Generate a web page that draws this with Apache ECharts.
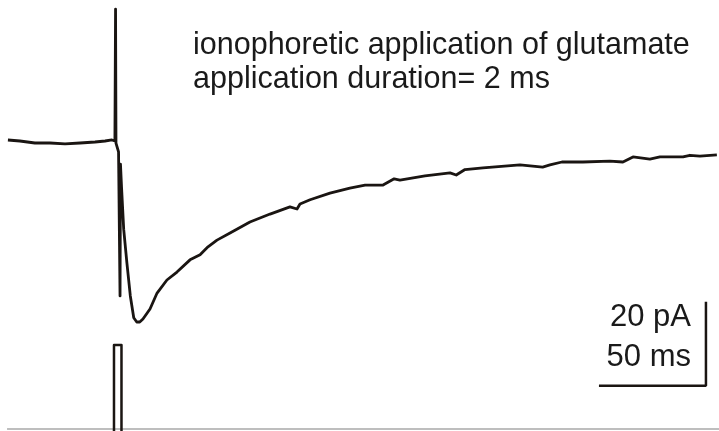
<!DOCTYPE html>
<html>
<head>
<meta charset="utf-8">
<script src="https://cdn.jsdelivr.net/npm/echarts@6/dist/echarts.min.js"></script>
<style>
  html, body { margin: 0; padding: 0; background: #fff; }
  #trace { width: 719px; height: 431px; }
</style>
</head>
<body>
<div id="trace"></div>
<script>
// 电流记录 (ms, pA)，刺激时刻为 0
var timeMs = [-50.5, -44.9, -37.9, -30.8, -23.8, -16.8, -9.8, -5.1, -1.9, -0.5,
  -0.2, 0, 1.2, 1.9, 2.1, 2.6, 3.6, 5.1, 6.7, 8.3, 9.7, 11.1, 12.6, 15.9, 19.2,
  23.8, 28.5, 34.6, 39.3, 43.0, 47.2, 53.3, 62.6, 72.0, 81.3, 84.6, 86.0, 90.7,
  100.0, 109.3, 116.4, 124.8, 130.0, 132.7, 144.4, 156.1, 159.0, 163.1, 171.5,
  188.8, 199.4, 202.8, 208.4, 218.2, 230.8, 236.9, 241.6, 249.5, 254.2, 265.0,
  268.2, 272.9, 280.8];
var currentPA = [0.24, 0, -0.48, -0.48, -0.71, -0.48, -0.24, 0, 0.24, 0,
  31.4, -0.5, -2.6, -36.9, -5.5, -11.0, -21.0, -29.0, -36.9, -42.1, -43.1, -43.1,
  -42.4, -40.0, -36.2, -33.1, -31.2, -28.3, -27.1, -25.2, -23.6, -21.9, -19.3,
  -17.4, -15.7, -16.2, -15.0, -14.0, -12.4, -11.2, -10.5, -10.5, -9.0, -9.3,
  -8.3, -7.6, -8.1, -6.8, -6.4, -5.7, -6.2, -5.7, -5.0, -5.0, -4.8, -5.0, -3.8,
  -4.3, -3.8, -3.8, -3.4, -3.6, -3.3];

// 离子电渗给药脉冲 (ms)
var pulseStartMs = -0.93;
var pulseEndMs = 2.57;
var cmdStartMs = -50.9;
var cmdEndMs = 281.8;

// 标尺
var scaleBarMs = 50;
var scaleBarPA = 20;
var scaleCornerMs = 275.7;
var scaleCornerPA = -58.3;

var titleLines = ['ionophoretic application of glutamate', 'application duration= 2 ms'];
var scaleLabels = [scaleBarPA + ' pA', scaleBarMs + ' ms'];

var traceData = timeMs.map(function (t, i) { return [t, currentPA[i]]; });
var pulseData = [[pulseStartMs, -0.03], [pulseStartMs, 1], [pulseEndMs, 1], [pulseEndMs, -0.03]];
var scaleData = [
  [scaleCornerMs - scaleBarMs, scaleCornerPA],
  [scaleCornerMs, scaleCornerPA],
  [scaleCornerMs, scaleCornerPA + scaleBarPA]
];

var myChart = echarts.init(document.getElementById('trace'));
var txtFont = '30.5px "Liberation Sans", Arial, sans-serif';
var barFont = '31px "Liberation Sans", Arial, sans-serif';
var option = {
  animation: false,
  backgroundColor: '#fff',
  grid: [
    { left: 0, right: 0, top: 0, bottom: 0 },
    { left: 0, right: 0, top: 345, height: 86 }
  ],
  xAxis: [
    { type: 'value', gridIndex: 0, min: -54.2, max: 281.8, show: false },
    { type: 'value', gridIndex: 1, min: -54.2, max: 281.8, show: false }
  ],
  yAxis: [
    { type: 'value', gridIndex: 0, min: -69.05, max: 33.57, show: false },
    { type: 'value', gridIndex: 1, min: -0.0238, max: 1, show: false }
  ],
  series: [
    {
      type: 'line', xAxisIndex: 0, yAxisIndex: 0,
      data: traceData, symbol: 'none', clip: false,
      lineStyle: { color: '#1a1512', width: 2.8, join: 'round' }
    },
    {
      type: 'line', xAxisIndex: 0, yAxisIndex: 0,
      data: scaleData, symbol: 'none', clip: false,
      lineStyle: { color: '#1a1512', width: 2.5 }
    },
    {
      // 命令通道基线
      type: 'line', xAxisIndex: 1, yAxisIndex: 1,
      data: [[cmdStartMs, 0], [cmdEndMs, 0]], symbol: 'none', clip: false,
      lineStyle: { color: '#a8a8a8', width: 1.5 }
    },
    {
      type: 'line', xAxisIndex: 1, yAxisIndex: 1,
      data: pulseData, symbol: 'none', clip: false,
      lineStyle: { color: '#1a1512', width: 2.5, join: 'round' }
    }
  ],
  graphic: [
    { type: 'text', left: 193, top: 30.5, style: { text: titleLines[0], font: txtFont, fill: '#1a1a1a' } },
    { type: 'text', left: 193, top: 64, style: { text: titleLines[1], font: txtFont, fill: '#1a1a1a' } },
    { type: 'text', right: 28, top: 301.5, style: { text: scaleLabels[0], font: barFont, fill: '#1a1a1a' } },
    { type: 'text', right: 28, top: 341.5, style: { text: scaleLabels[1], font: barFont, fill: '#1a1a1a' } }
  ]
};
myChart.setOption(option);
</script>
</body>
</html>
